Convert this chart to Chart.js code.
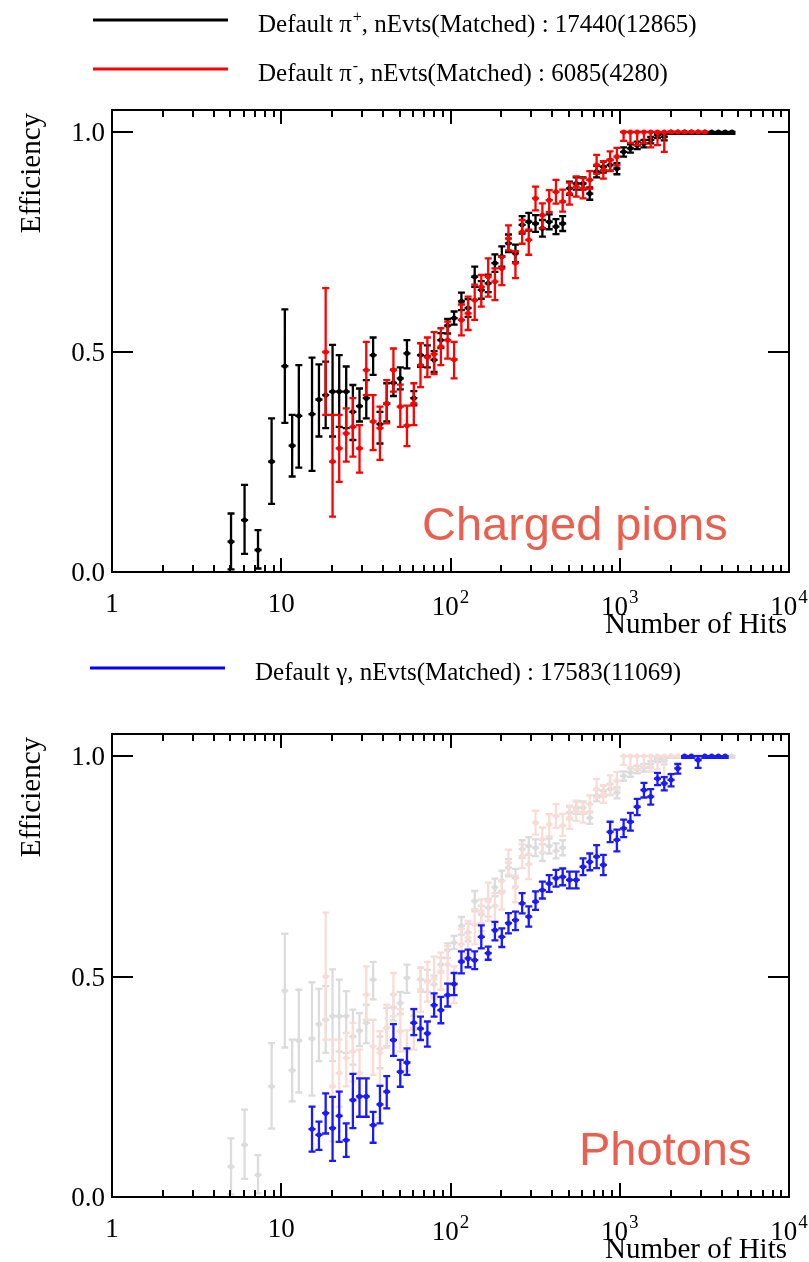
<!DOCTYPE html>
<html>
<head>
<meta charset="utf-8">
<script src="https://cdn.jsdelivr.net/npm/chart.js@4.4.0/dist/chart.umd.min.js"></script>
<style>
  body { margin: 0; background: #fff; }
  canvas { position: absolute; left: 0; }
  #pions { top: 0; }
  #photons { top: 640px; }
</style>
</head>
<body>
<canvas id="pions" width="809" height="640"></canvas>
<canvas id="photons" width="809" height="622"></canvas>
<script>
// bin centres (number of hits)
const hits = [5.05, 5.53, 6.07, 6.65, 7.29, 8.00, 8.77, 9.62, 10.5, 11.6,
  12.7, 13.9, 15.2, 16.7, 18.3, 20.1, 22.0, 24.2, 26.5, 29.0,
  31.8, 34.9, 38.3, 42.0, 46.0, 50.5, 55.3, 60.7, 66.5, 73.0,
  80.0, 87.7, 96.2, 105, 116, 127, 139, 152, 167, 183,
  201, 220, 242, 265, 290, 318, 349, 383, 420, 460,
  505, 553, 607, 665, 730, 800, 877, 962, 1054, 1156,
  1268, 1390, 1524, 1671, 1832, 2009, 2203, 2415, 2649, 2904,
  3184, 3491, 3828, 4198, 4603, 5047];

// pi+ (black)
const piPlusEff = [0.069, null, 0.118, null, 0.05, null, 0.251, null, 0.468, 0.287,
  0.355, null, 0.359, 0.392, 0.402, 0.41, 0.41, 0.41, 0.364, 0.377,
  0.395, 0.493, 0.336, 0.383, 0.43, 0.44, 0.497, 0.395, 0.493, 0.49,
  0.482, 0.527, 0.56, 0.577, 0.615, 0.6, 0.671, 0.641, 0.656, 0.702,
  0.717, 0.747, 0.724, 0.789, 0.796, 0.792, 0.781, 0.796, 0.785, 0.792,
  0.872, 0.883, 0.883, 0.86, 0.91, 0.921, 0.925, 0.917, 0.955, 0.963,
  0.97, 0.974, 0.982, 0.993, 0.989, 1, 1, 1, 1, 1,
  1, 1, 1, 1, 1, null];
const piPlusUp = [0.064, null, 0.08, null, 0.045, null, 0.098, null, 0.129, 0.07,
  0.115, null, 0.128, 0.08, 0.076, 0.106, 0.083, 0.057, 0.061, 0.04,
  0.041, 0.04, 0.028, 0.046, 0.03, 0.025, 0.03, 0.016, 0.027, 0.025,
  0.02, 0.016, 0.015, 0.015, 0.02, 0.02, 0.023, 0.02, 0.02, 0.02,
  0.023, 0.02, 0.02, 0.02, 0.02, 0.019, 0.019, 0.017, 0.017, 0.017,
  0.015, 0.014, 0.014, 0.014, 0.013, 0.012, 0.012, 0.012, 0.01, 0.009,
  0.008, 0.008, 0.007, 0.005, 0.006, 0, 0, 0, 0, 0,
  0, 0, 0, 0, 0, null];
const piPlusDown = [0.063, null, 0.077, null, 0.042, null, 0.096, null, 0.129, 0.07,
  0.118, null, 0.129, 0.084, 0.075, 0.102, 0.08, 0.083, 0.064, 0.035,
  0.046, 0.045, 0.044, 0.041, 0.03, 0.025, 0.034, 0.016, 0.027, 0.025,
  0.027, 0.018, 0.018, 0.015, 0.02, 0.02, 0.023, 0.02, 0.02, 0.02,
  0.023, 0.02, 0.02, 0.02, 0.02, 0.019, 0.019, 0.017, 0.017, 0.017,
  0.015, 0.014, 0.014, 0.014, 0.013, 0.013, 0.013, 0.013, 0.011, 0.01,
  0.009, 0.009, 0.008, 0.007, 0.008, 0.004, 0.004, 0.004, 0.004, 0.004,
  0.004, 0.004, 0.004, 0.004, 0.004, null];

// pi- (red)
const piMinusEff = [null, null, null, null, null, null, null, null, null, null,
  null, null, null, null, 0.50, 0.251, 0.281, 0.315, 0.33, 0.281,
  0.459, 0.342, 0.327, 0.383, 0.459, 0.376, 0.333, 0.383, 0.47, 0.488,
  0.495, 0.512, 0.527, 0.483, 0.573, 0.588, 0.618, 0.648, 0.671, 0.66,
  0.69, 0.758, 0.702, 0.773, 0.755, 0.849, 0.811, 0.845, 0.864, 0.842,
  0.86, 0.876, 0.872, 0.891, 0.925, 0.914, 0.936, 0.944, 1, 1,
  1, 1, 1, 1, 1, 1, 1, 1, 1, 1,
  1, null, null, null, null, null];
const piMinusUp = [null, null, null, null, null, null, null, null, null, null,
  null, null, null, null, 0.145, 0.106, 0.076, 0.057, 0.065, 0.053,
  0.064, 0.06, 0.049, 0.053, 0.049, 0.05, 0.045, 0.046, 0.05, 0.045,
  0.05, 0.042, 0.042, 0.04, 0.035, 0.038, 0.035, 0.027, 0.042, 0.03,
  0.027, 0.03, 0.027, 0.027, 0.023, 0.027, 0.027, 0.023, 0.027, 0.027,
  0.025, 0.023, 0.023, 0.02, 0.023, 0.02, 0.02, 0.02, 0, 0,
  0, 0, 0, 0, 0, 0, 0, 0, 0, 0,
  0, null, null, null, null, null];
const piMinusDown = [null, null, null, null, null, null, null, null, null, null,
  null, null, null, null, 0.143, 0.125, 0.076, 0.064, 0.068, 0.055,
  0.057, 0.065, 0.072, 0.045, 0.049, 0.046, 0.047, 0.049, 0.05, 0.045,
  0.045, 0.042, 0.042, 0.043, 0.035, 0.038, 0.045, 0.045, 0.045, 0.042,
  0.038, 0.027, 0.034, 0.027, 0.034, 0.027, 0.03, 0.027, 0.027, 0.023,
  0.025, 0.023, 0.023, 0.02, 0.02, 0.02, 0.025, 0.02, 0.02, 0.025,
  0.03, 0.025, 0.035, 0.03, 0.045, 0, 0, 0, 0, 0,
  0, null, null, null, null, null];

// gamma (blue)
const gammaEff = [null, null, null, null, null, null, null, null, null, null,
  null, null, 0.154, 0.141, 0.19, 0.156, 0.184, 0.129, 0.22, 0.228,
  0.228, 0.163, 0.21, 0.239, 0.356, 0.284, 0.305, 0.395, 0.382, 0.371,
  0.435, 0.424, 0.458, 0.483, 0.534, 0.541, 0.537, 0.59, 0.553, 0.605,
  0.59, 0.621, 0.628, 0.666, 0.636, 0.67, 0.696, 0.711, 0.723, 0.726,
  0.719, 0.719, 0.749, 0.76, 0.772, 0.753, 0.828, 0.81, 0.836, 0.851,
  0.885, 0.923, 0.908, 0.949, 0.938, 0.946, 0.972, 1, 1, 0.991,
  1, 1, 1, 1, null, null];
const gammaUp = [null, null, null, null, null, null, null, null, null, null,
  null, null, 0.051, 0.03, 0.045, 0.071, 0.055, 0.038, 0.059, 0.041,
  0.041, 0.03, 0.042, 0.035, 0.036, 0.027, 0.032, 0.031, 0.027, 0.027,
  0.027, 0.03, 0.026, 0.025, 0.023, 0.02, 0.02, 0.026, 0.015, 0.019,
  0.019, 0.023, 0.019, 0.023, 0.023, 0.023, 0.019, 0.019, 0.019, 0.019,
  0.019, 0.019, 0.019, 0.019, 0.026, 0.023, 0.023, 0.023, 0.02, 0.02,
  0.018, 0.016, 0.017, 0.013, 0.014, 0.013, 0.01, 0, 0, 0.009,
  0, 0, 0, 0, null, null];
const gammaDown = [null, null, null, null, null, null, null, null, null, null,
  null, null, 0.051, 0.034, 0.046, 0.074, 0.059, 0.038, 0.064, 0.046,
  0.046, 0.04, 0.043, 0.038, 0.036, 0.034, 0.028, 0.028, 0.026, 0.03,
  0.026, 0.03, 0.026, 0.025, 0.027, 0.02, 0.02, 0.026, 0.015, 0.023,
  0.023, 0.023, 0.023, 0.023, 0.023, 0.019, 0.019, 0.019, 0.019, 0.019,
  0.019, 0.019, 0.019, 0.019, 0.026, 0.023, 0.023, 0.026, 0.02, 0.02,
  0.019, 0.017, 0.018, 0.015, 0.016, 0.015, 0.012, 0.004, 0.004, 0.018,
  0.004, 0.004, 0.004, 0.004, null, null];

// axes
const xTicks = [1, 10, 100, 1000, 10000];
const xTickBase = ['1', '10', '10', '10', '10'];
const xTickExp = ['', '', '2', '3', '4'];
const yTicks = [0, 0.5, 1.0];
const yTickLabels = ['0.0', '0.5', '1.0'];

// legends / tags
const pionLegendName = ['Default \u03c0', 'Default \u03c0'];
const pionLegendSup = ['+', '-'];
const pionLegendTail = [', nEvts(Matched) : 17440(12865)', ', nEvts(Matched) : 6085(4280)'];
const pionLegendColor = ['#000000', '#ff0000'];
const photonLegendName = ['Default \u03b3'];
const photonLegendSup = [''];
const photonLegendTail = [', nEvts(Matched) : 17583(11069)'];
const photonLegendColor = ['#0000ff'];

const SERIF = "'Liberation Serif', 'Times New Roman', serif";
const halfBin = Math.pow(10, 0.021);

function points(eff, up, down) {
  const pts = [];
  eff.forEach((v, i) => {
    if (v !== null) pts.push({x: hits[i], y: v, up: up[i], down: down[i]});
  });
  return pts;
}

// ROOT-like error bars, drawn just under each dataset's markers
const errorBars = {
  id: 'errorBars',
  beforeDatasetDraw(chart, args) {
    const ds = chart.data.datasets[args.index];
    const xs = chart.scales.x, ys = chart.scales.y;
    const ctx = chart.ctx;
    ctx.save();
    ctx.strokeStyle = ds.borderColor;
    ctx.lineWidth = 2.3;
    ctx.beginPath();
    ds.data.forEach(p => {
      const cx = xs.getPixelForValue(p.x);
      const cy = ys.getPixelForValue(p.y);
      ctx.moveTo(xs.getPixelForValue(p.x / halfBin), cy);
      ctx.lineTo(xs.getPixelForValue(p.x * halfBin), cy);
      if (p.up > 0.001) {
        const yt = ys.getPixelForValue(p.y + p.up);
        ctx.moveTo(cx, cy); ctx.lineTo(cx, yt);
        ctx.moveTo(cx - 3.5, yt); ctx.lineTo(cx + 3.5, yt);
      }
      if (p.down > 0.001) {
        const yb = ys.getPixelForValue(p.y - p.down);
        ctx.moveTo(cx, cy); ctx.lineTo(cx, yb);
        ctx.moveTo(cx - 3.5, yb); ctx.lineTo(cx + 3.5, yb);
      }
    });
    ctx.stroke();
    ctx.restore();
  }
};

function drawSupText(ctx, x, y, name, sup, tail, size) {
  ctx.font = size + 'px ' + SERIF;
  ctx.fillText(name, x, y);
  x += ctx.measureText(name).width;
  if (sup) {
    ctx.font = Math.round(size * 0.62) + 'px ' + SERIF;
    ctx.fillText(sup, x + 1, y - size * 0.42);
    x += ctx.measureText(sup).width + 1;
  }
  ctx.font = size + 'px ' + SERIF;
  ctx.fillText(tail, x, y);
}

// frame, ticks, labels, legend, tag
const rootFrame = {
  id: 'rootFrame',
  afterDraw(chart, args, o) {
    const {ctx, chartArea: a} = chart;
    const xs = chart.scales.x, ys = chart.scales.y;
    ctx.save();
    ctx.strokeStyle = '#000';
    ctx.fillStyle = '#000';
    ctx.lineWidth = 2;
    ctx.strokeRect(a.left, a.top, a.right - a.left, a.bottom - a.top);

    ctx.beginPath();
    for (let d = 1; d < 10000; d *= 10) {
      for (let m = 2; m < 10; m++) {
        const px = Math.round(xs.getPixelForValue(d * m));
        ctx.moveTo(px, a.bottom); ctx.lineTo(px, a.bottom - 7);
        ctx.moveTo(px, a.top); ctx.lineTo(px, a.top + 7);
      }
    }
    xTicks.forEach(v => {
      const px = Math.round(xs.getPixelForValue(v));
      ctx.moveTo(px, a.bottom); ctx.lineTo(px, a.bottom - 14);
      ctx.moveTo(px, a.top); ctx.lineTo(px, a.top + 14);
    });
    yTicks.forEach(v => {
      const py = Math.round(ys.getPixelForValue(v));
      ctx.moveTo(a.left, py); ctx.lineTo(a.left + 21, py);
      ctx.moveTo(a.right, py); ctx.lineTo(a.right - 21, py);
    });
    ctx.stroke();

    // tick labels
    ctx.textBaseline = 'alphabetic';
    ctx.textAlign = 'right';
    ctx.font = '27px ' + SERIF;
    yTicks.forEach((v, i) => {
      ctx.fillText(yTickLabels[i], 105, ys.getPixelForValue(v) + 9);
    });
    ctx.textAlign = 'left';
    xTicks.forEach((v, i) => {
      const px = xs.getPixelForValue(v);
      ctx.font = '27px ' + SERIF;
      const wb = ctx.measureText(xTickBase[i]).width;
      ctx.font = '19px ' + SERIF;
      const we = xTickExp[i] ? ctx.measureText(xTickExp[i]).width + 1 : 0;
      const x0 = px - (wb + we) / 2;
      const base = xTickExp[i] ? a.bottom + 43 : a.bottom + 40;
      ctx.font = '27px ' + SERIF;
      ctx.fillText(xTickBase[i], x0, base);
      if (xTickExp[i]) {
        ctx.font = '19px ' + SERIF;
        ctx.fillText(xTickExp[i], x0 + wb + 1, base - 12);
      }
    });

    // axis titles
    ctx.font = '29px ' + SERIF;
    ctx.textAlign = 'right';
    ctx.fillText('Number of Hits', 787, a.bottom + 61);
    ctx.save();
    ctx.translate(40, a.top + 3);
    ctx.rotate(-Math.PI / 2);
    ctx.fillText('Efficiency', 0, 0);
    ctx.restore();

    // legend
    ctx.textAlign = 'left';
    o.names.forEach((name, i) => {
      const ly = o.legendY[i];
      ctx.strokeStyle = o.colors[i];
      ctx.lineWidth = 3;
      ctx.beginPath();
      ctx.moveTo(o.legendX, ly); ctx.lineTo(o.legendX + 135, ly);
      ctx.stroke();
      ctx.fillStyle = '#000';
      drawSupText(ctx, o.legendX + 165, ly + 12, name, o.sups[i], o.tails[i], 25);
    });

    // tag
    ctx.fillStyle = '#e9604f';
    ctx.font = "47px 'Liberation Sans', Arial, sans-serif";
    ctx.textAlign = 'left';
    ctx.fillText(o.tag, o.tagX, a.bottom - 32);
    ctx.restore();
  }
};

function makeChart(id, datasets, pad, frameOpts) {
  datasets.forEach(ds => {
    ds.pointStyle = 'circle';
    ds.pointRadius = 2.6;
    ds.pointHoverRadius = 2.6;
    ds.pointBorderWidth = 0;
  });
  return new Chart(document.getElementById(id), {
    type: 'scatter',
    data: {datasets: datasets},
    options: {
      responsive: false,
      animation: false,
      layout: {padding: pad},
      scales: {
        x: {type: 'logarithmic', min: 1, max: 10000, display: false},
        y: {min: 0, max: 1.05, display: false}
      },
      plugins: {
        legend: {display: false},
        tooltip: {enabled: false},
        rootFrame: frameOpts
      }
    },
    plugins: [errorBars, rootFrame]
  });
}

makeChart('pions', [
  {label: 'pi-', data: points(piMinusEff, piMinusUp, piMinusDown), borderColor: '#ff0000', backgroundColor: '#ff0000'},
  {label: 'pi+', data: points(piPlusEff, piPlusUp, piPlusDown), borderColor: '#000000', backgroundColor: '#000000'}
], {left: 112, right: 20, top: 110, bottom: 68}, {
  names: pionLegendName, sups: pionLegendSup, tails: pionLegendTail, colors: pionLegendColor,
  legendX: 93, legendY: [20, 69], tag: 'Charged pions', tagX: 422
});

makeChart('photons', [
  {label: 'gamma', data: points(gammaEff, gammaUp, gammaDown), borderColor: '#1a1aff', backgroundColor: '#1a1aff'},
  {label: 'pi- ref', data: points(piMinusEff, piMinusUp, piMinusDown), borderColor: '#f9dcd6', backgroundColor: '#f9dcd6'},
  {label: 'pi+ ref', data: points(piPlusEff, piPlusUp, piPlusDown), borderColor: '#dcdcdc', backgroundColor: '#dcdcdc'}
], {left: 112, right: 20, top: 94, bottom: 65}, {
  names: photonLegendName, sups: photonLegendSup, tails: photonLegendTail, colors: photonLegendColor,
  legendX: 90, legendY: [28], tag: 'Photons', tagX: 579
});
</script>
</body>
</html>
